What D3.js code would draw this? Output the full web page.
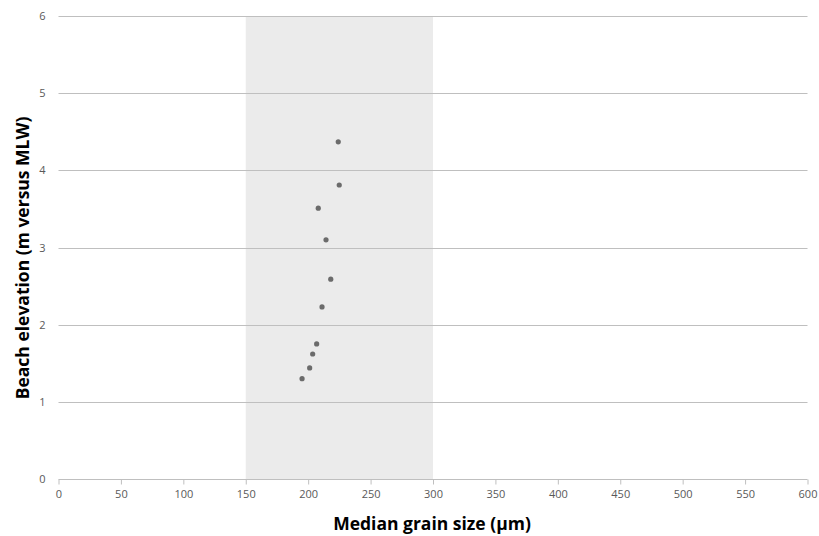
<!DOCTYPE html>
<html><head><meta charset="utf-8">
<script src="https://cdn.jsdelivr.net/npm/d3@7"></script>
<style>body{margin:0;background:#fff}svg{display:block}</style>
</head><body>
<svg id="c" width="819" height="536"></svg>
<script>
const grainSize = [224.1, 224.9, 208.1, 214.3, 218.1, 211.1, 206.8, 203.6, 201.2, 195.1];
const elevation = [4.37, 3.81, 3.51, 3.10, 2.59, 2.23, 1.75, 1.62, 1.44, 1.30];
const xTicks = [0,50,100,150,200,250,300,350,400,450,500,550,600];
const yTicks = [0,1,2,3,4,5,6];
const band = [150, 300];

const svg = d3.select("#c");
const font = "'Open Sans', Lato, sans-serif";
const x = d3.scaleLinear().domain([0,600]).range([58.5,807.5]);
const y = d3.scaleLinear().domain([0,6]).range([479,16]);

svg.append("rect").attr("x", x(band[0])).attr("y", y(6))
  .attr("width", x(band[1]) - x(band[0])).attr("height", y(0) - y(6))
  .attr("fill", "#ebebeb");

svg.append("g").selectAll("line").data(yTicks.filter(d=>d>0)).join("line")
  .attr("x1", x(0)).attr("x2", x(600))
  .attr("y1", d=>Math.round(y(d))+0.5).attr("y2", d=>Math.round(y(d))+0.5)
  .attr("stroke", "#bfbfbf").attr("stroke-width", 1);

const xa = svg.append("g").attr("transform", `translate(0,${Math.round(y(0))+0.5})`)
  .call(d3.axisBottom(x).tickValues(xTicks).tickSize(5).tickPadding(6));
xa.select(".domain").attr("stroke", "#bfbfbf").attr("d", `M${x(0)},0H${x(600)}`);
xa.selectAll(".tick line").attr("stroke", "#bfbfbf");
xa.selectAll("text").attr("fill", "#595959").style("font-family", font).style("font-size", "11px");

const ya = svg.append("g").attr("transform", `translate(${x(0)},0)`)
  .call(d3.axisLeft(y).tickValues(yTicks).tickFormat(d3.format("d")).tickSize(0).tickPadding(13));
ya.select(".domain").remove();
ya.selectAll("text").attr("fill", "#595959").style("font-family", font).style("font-size", "11px");

svg.append("g").selectAll("circle").data(grainSize.map((g,i)=>[g, elevation[i]])).join("circle")
  .attr("cx", d=>x(d[0])).attr("cy", d=>y(d[1])).attr("r", 2.6).attr("fill", "#6b6b6b");

svg.append("text").attr("x", 432).attr("y", 530)
  .attr("text-anchor", "middle").style("font-family", font).style("font-size", "17.5px")
  .style("font-weight", "bold").attr("fill", "#000").text("Median grain size (µm)");

svg.append("text").attr("transform", `translate(29,258) rotate(-90)`)
  .attr("text-anchor", "middle").style("font-family", font).style("font-size", "17.5px")
  .style("font-weight", "bold").attr("fill", "#000").text("Beach elevation (m versus MLW)");
</script>
</body></html>
